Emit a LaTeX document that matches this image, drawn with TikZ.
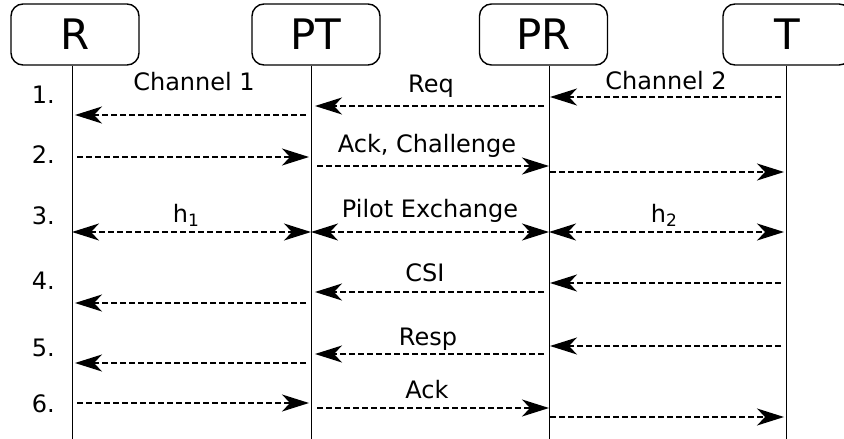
\documentclass[tikz,border=0pt]{standalone}
\usepackage{fontspec}
\setmainfont{DejaVu Sans}
\usetikzlibrary{arrows.meta,calc}
\begin{document}
\begin{tikzpicture}[x=1pt,y=-1pt,
  actor/.style={draw, line width=1.4pt, rounded corners=12pt, minimum width=128pt, minimum height=61pt, inner sep=0pt, font=\fontsize{42}{42}\selectfont},
  life/.style={line width=1pt},
  msg/.style={line width=1.3pt, dash pattern=on 6pt off 3pt, -{Stealth[length=27pt,width=17pt,inset=8pt]}},
  bmsg/.style={line width=1.3pt, dash pattern=on 6pt off 3pt, {Stealth[length=27pt,width=17pt,inset=8pt]}-{Stealth[length=27pt,width=17pt,inset=8pt]}},
  lbl/.style={anchor=base, font=\fontsize{24}{24}\selectfont, inner sep=0pt},
  num/.style={anchor=base east, font=\fontsize{24}{24}\selectfont, inner sep=0pt}]
\useasboundingbox (0,0) rectangle (844,439);
% actors
\node[actor] (Rb) at (75,34.5) {R};
\node[actor] (PTb) at (316,34.5) {PT};
\node[actor] (PRb) at (543.5,34.5) {PR};
\node[actor] (Tb) at (787,34.5) {T};
% lifeline anchors
\coordinate (R) at (72,0);
\coordinate (PT) at (311,0);
\coordinate (PR) at (549,0);
\coordinate (T) at (786,0);
\coordinate (Re) at (72,439);
\coordinate (PTe) at (311,439);
\coordinate (PRe) at (549,439);
\coordinate (Te) at (786,439);
\draw[life] (R |- Rb.south) -- (Re);
\draw[life] (PT |- PTb.south) -- (PTe);
\draw[life] (PR |- PRb.south) -- (PRe);
\draw[life] (T |- Tb.south) -- (Te);
% step numbers
\node[num] (n1) at (55,103) {1.};
\node[num] (n2) at (55,163) {2.};
\node[num] (n3) at (55,224) {3.};
\node[num] (n4) at (55,289) {4.};
\node[num] (n5) at (55,356) {5.};
\node[num] (n6) at (55,412) {6.};
% row 1
\draw[msg] ($(T)+(-5,97)$) -- ($(PR)+(1,97)$);
\draw[msg] ($(PR)+(-5,106)$) -- ($(PT)+(4,106)$);
\draw[msg] ($(PT)+(-5,115)$) -- ($(R)+(3,115)$);
\node[lbl] (l1a) at (194,90) {Channel 1};
\node[lbl] (l1b) at (431,92) {Req};
\node[lbl] (l1c) at (666,89) {Channel 2};
% row 2
\draw[msg] ($(R)+(5,157)$) -- ($(PT)+(-2,157)$);
\draw[msg] ($(PT)+(6,166)$) -- ($(PR)+(0,166)$);
\draw[msg] ($(PR)+(1,172)$) -- ($(T)+(-2,172)$);
\node[lbl] (l2) at (427,152.5) {Ack, Challenge};
% row 3
\draw[bmsg] ($(R)+(0,232)$) -- ($(PT)+(0,232)$);
\draw[bmsg] ($(PT)+(0,232)$) -- ($(PR)+(0,232)$);
\draw[bmsg] ($(PR)+(0,232)$) -- ($(T)+(-2,232)$);
\node[lbl] (l3a) at (186,222) {h\raisebox{-4pt}{\fontsize{17}{17}\selectfont 1}};
\node[lbl] (l3b) at (430,217) {Pilot Exchange};
\node[lbl] (l3c) at (664,222) {h\raisebox{-4pt}{\fontsize{17}{17}\selectfont 2}};
% row 4
\draw[msg] ($(T)+(-5,283)$) -- ($(PR)+(1,283)$);
\draw[msg] ($(PR)+(-5,292)$) -- ($(PT)+(4,292)$);
\draw[msg] ($(PT)+(-5,303)$) -- ($(R)+(3,303)$);
\node[lbl] (l4) at (425,281) {CSI};
% row 5
\draw[msg] ($(T)+(-5,346)$) -- ($(PR)+(1,346)$);
\draw[msg] ($(PR)+(-5,354)$) -- ($(PT)+(4,354)$);
\draw[msg] ($(PT)+(-5,363)$) -- ($(R)+(3,363)$);
\node[lbl] (l5) at (428,345) {Resp};
% row 6
\draw[msg] ($(R)+(5,403)$) -- ($(PT)+(-2,403)$);
\draw[msg] ($(PT)+(6,408)$) -- ($(PR)+(0,408)$);
\draw[msg] ($(PR)+(1,417)$) -- ($(T)+(-2,417)$);
\node[lbl] (l6) at (427,398) {Ack};
\end{tikzpicture}
\end{document}
